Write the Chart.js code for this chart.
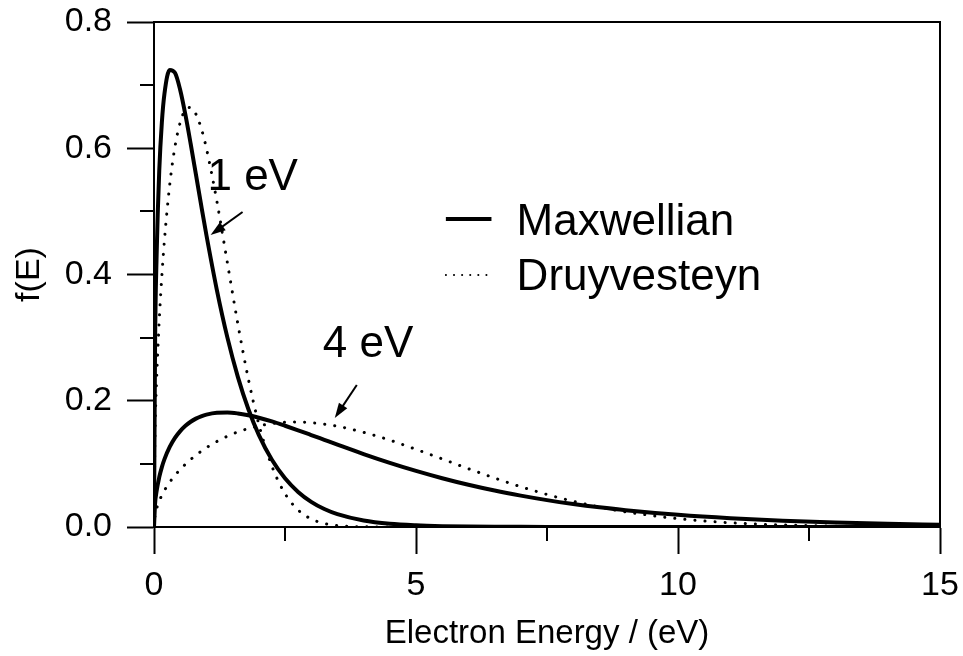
<!DOCTYPE html>
<html><head><meta charset="utf-8">
<script src="https://cdn.jsdelivr.net/npm/chart.js@4.4.1/dist/chart.umd.min.js"></script>
<style>html,body{margin:0;padding:0;background:#fff;}canvas{display:block;}</style>
</head><body>
<canvas id="c" width="963" height="656"></canvas>
<script>
// ---- data ----
const energy   = [0, 0.02, 0.05, 0.1, 0.15, 0.2, 0.3, 0.4, 0.5, 0.6, 0.7, 0.8, 0.9, 1.0, 1.2, 1.4, 1.6, 1.8, 2.0, 2.25, 2.5, 2.75, 3.0, 3.25, 3.5, 4.0, 4.5, 5, 5.5, 6, 6.5, 7, 7.5, 8, 8.5, 9, 10, 11, 12, 13, 14, 15];
const maxwell1 = [0, .2845, .4300, .5642, .6411, .6868, .7240, .7195, .6924, .6528, .6069, .5585, .5098, .4626, .3754, .3004, .2379, .1869, .1460, .1064, .0771, .0556, .0399, .0285, .0204, .0103, .0051, .0026, .0013, .0006, .0003, .0002, .0001, 0, 0, 0, 0, 0, 0, 0, 0, 0];
const druy1    = [0, .1470, .2322, .3271, .3978, .4550, .5421, .6024, .6409, .6609, .6646, .6542, .6319, .6000, .5160, .4187, .3218, .2348, .1630, .0964, .0529, .0269, .0128, .0056, .0023, .0003, 0, 0, 0, 0, 0, 0, 0, 0, 0, 0, 0, 0, 0, 0, 0, 0];
const maxwell4 = [0, .0364, .0569, .0789, .0949, .1075, .1268, .1411, .1519, .1603, .1667, .1717, .1754, .1781, .1810, .1814, .1799, .1770, .1731, .1672, .1604, .1532, .1457, .1381, .1305, .1156, .1017, .0889, .0773, .0669, .0577, .0497, .0426, .0365, .0312, .0266, .0193, .0139, .0100, .0071, .0051, .0036];
const druy4    = [0, .0184, .0291, .0411, .0503, .0581, .0710, .0818, .0911, .0995, .1070, .1137, .1199, .1256, .1355, .1438, .1506, .1560, .1602, .1638, .1659, .1663, .1652, .1630, .1597, .1500, .1376, .1230, .1078, .0923, .0776, .0638, .0515, .0407, .0316, .0241, .0132, .0067, .0032, .0014, .0006, .0002];

const xTicks = [0, 5, 10, 15];
const xMinorTicks = [2.5, 7.5, 12.5];
const yTicks = [0.0, 0.2, 0.4, 0.6, 0.8];
const yMinorTicks = [0.1, 0.3, 0.5, 0.7];
const seriesNames = ['Maxwellian', 'Druyvesteyn'];
const curveNames = ['1 eV', '4 eV'];
const xTitle = 'Electron Energy / (eV)';
const yTitle = 'f(E)';

// ---- styling / placement (data units) ----
const FONT = '"Liberation Sans", Arial, Helvetica, sans-serif';
const notes = [
  {text: curveNames[0], x: 1.02, y: 0.534, from: [1.69, 0.499], to: [1.08, 0.4626]},
  {text: curveNames[1], x: 3.22, y: 0.269, from: [3.87, 0.225], to: [3.45, 0.1727]}
];
const legendPos = {x0: 5.57, x1: 6.44, tx: 6.92, rows: [{line: 0.488, base: 0.4626}, {line: 0.3992, base: 0.3754}]};

function pts(ys) { return energy.map((e, i) => ({x: e, y: ys[i]})); }
const solid = {borderColor: '#000', borderWidth: 4, pointRadius: 0, cubicInterpolationMode: 'monotone', fill: false, borderCapStyle: 'round', borderJoinStyle: 'round'};
const dotted = {borderColor: '#000', borderWidth: 3, pointRadius: 0, cubicInterpolationMode: 'monotone', fill: false, borderDash: [0.1, 10], borderCapStyle: 'round'};

const decor = {
  id: 'decor',
  afterDraw(chart) {
    const {ctx, chartArea: a, scales: {x, y}} = chart;
    ctx.save();
    ctx.strokeStyle = '#000';
    ctx.fillStyle = '#000';
    ctx.lineWidth = 2;
    // frame top & right
    ctx.beginPath();
    ctx.moveTo(a.left, a.top); ctx.lineTo(a.right, a.top); ctx.lineTo(a.right, a.bottom);
    ctx.stroke();
    // minor ticks
    ctx.beginPath();
    yMinorTicks.forEach(v => { const py = Math.round(y.getPixelForValue(v)); ctx.moveTo(a.left - 14, py); ctx.lineTo(a.left, py); });
    xMinorTicks.forEach(v => { const px = Math.round(x.getPixelForValue(v)); ctx.moveTo(px, a.bottom); ctx.lineTo(px, a.bottom + 14); });
    ctx.stroke();
    // curve annotations
    ctx.font = '44px ' + FONT;
    ctx.textAlign = 'left';
    ctx.textBaseline = 'alphabetic';
    notes.forEach(n => {
      ctx.fillText(n.text, x.getPixelForValue(n.x), y.getPixelForValue(n.y));
      const x0 = x.getPixelForValue(n.from[0]), y0 = y.getPixelForValue(n.from[1]);
      const x1 = x.getPixelForValue(n.to[0]), y1 = y.getPixelForValue(n.to[1]);
      const ang = Math.atan2(y1 - y0, x1 - x0);
      ctx.beginPath(); ctx.moveTo(x0, y0); ctx.lineTo(x1 - 8 * Math.cos(ang), y1 - 8 * Math.sin(ang)); ctx.stroke();
      const L = 15, W = 5;
      ctx.beginPath();
      ctx.moveTo(x1, y1);
      ctx.lineTo(x1 - L * Math.cos(ang) + W * Math.sin(ang), y1 - L * Math.sin(ang) - W * Math.cos(ang));
      ctx.lineTo(x1 - L * Math.cos(ang) - W * Math.sin(ang), y1 - L * Math.sin(ang) + W * Math.cos(ang));
      ctx.closePath(); ctx.fill();
    });
    // legend
    const lx0 = x.getPixelForValue(legendPos.x0), lx1 = x.getPixelForValue(legendPos.x1), tx = x.getPixelForValue(legendPos.tx);
    legendPos.rows.forEach((r, i) => {
      const ly = y.getPixelForValue(r.line);
      ctx.beginPath();
      if (i === 0) { ctx.lineWidth = 4; ctx.setLineDash([]); ctx.lineCap = 'butt'; }
      else { ctx.lineWidth = 2; ctx.setLineDash([0.1, 8]); ctx.lineCap = 'round'; }
      ctx.moveTo(lx0, ly); ctx.lineTo(lx1, ly); ctx.stroke();
      ctx.setLineDash([]);
      ctx.fillText(seriesNames[i], tx, y.getPixelForValue(r.base));
    });
    ctx.restore();
  }
};

new Chart(document.getElementById('c'), {
  type: 'line',
  data: {
    datasets: [
      Object.assign({label: seriesNames[0] + ' ' + curveNames[0], data: pts(maxwell1)}, solid),
      Object.assign({label: seriesNames[1] + ' ' + curveNames[0], data: pts(druy1)}, dotted),
      Object.assign({label: seriesNames[0] + ' ' + curveNames[1], data: pts(maxwell4)}, solid),
      Object.assign({label: seriesNames[1] + ' ' + curveNames[1], data: pts(druy4)}, dotted)
    ]
  },
  options: {
    responsive: false,
    animation: false,
    devicePixelRatio: 1,
    layout: {padding: {left: 0, top: 22, right: 23, bottom: 0}},
    plugins: {legend: {display: false}, tooltip: {enabled: false}},
    scales: {
      x: {
        type: 'linear', min: 0, max: 15,
        afterBuildTicks: s => { s.ticks = xTicks.map(v => ({value: v})); },
        afterFit: s => { s.height = 129; s.paddingLeft = 0; s.paddingRight = 0; },
        grid: {drawOnChartArea: false, drawTicks: true, tickLength: 27, tickWidth: 2, tickColor: '#000'},
        border: {display: true, color: '#000', width: 2},
        ticks: {color: '#000', font: {family: FONT, size: 34}, padding: 11, maxRotation: 0, callback: v => String(v)},
        title: {display: true, text: xTitle, color: '#000', font: {family: FONT, size: 33}, padding: {top: 0, bottom: 2}}
      },
      y: {
        type: 'linear', min: 0, max: 0.8,
        afterBuildTicks: s => { s.ticks = yTicks.map(v => ({value: v})); },
        afterFit: s => { s.width = 154; s.paddingTop = 0; s.paddingBottom = 0; },
        grid: {drawOnChartArea: false, drawTicks: true, tickLength: 27, tickWidth: 2, tickColor: '#000'},
        border: {display: true, color: '#000', width: 2},
        ticks: {color: '#000', font: {family: FONT, size: 34}, padding: 15, callback: v => v.toFixed(1)},
        title: {display: true, text: yTitle, color: '#000', font: {family: FONT, size: 34}, padding: {top: 9, bottom: 0}}
      }
    }
  },
  plugins: [decor]
});
</script>
</body></html>
